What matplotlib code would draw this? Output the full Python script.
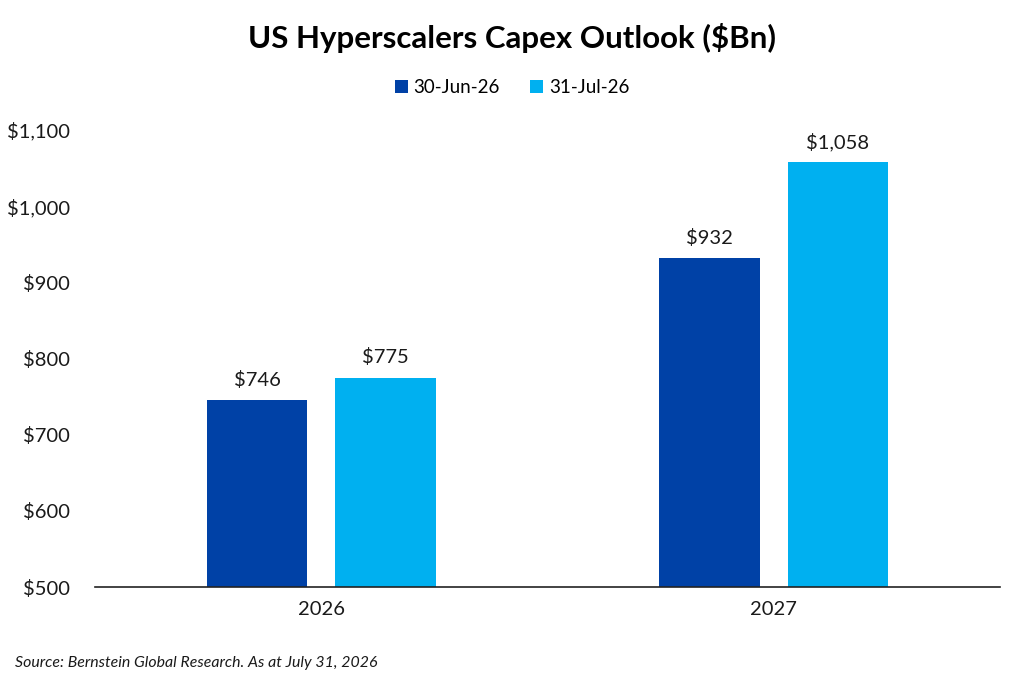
import matplotlib
matplotlib.use("Agg")
from matplotlib import pyplot as plt
import numpy as np

# chart data
years = ["2026", "2027"]
series_names = ["30-Jun-26", "31-Jul-26"]
capex_jun = [746, 932]
capex_jul = [775, 1058]
y_ticks = [500, 600, 700, 800, 900, 1000, 1100]

dark_blue = "#0041A6"
light_blue = "#00B0F0"

plt.rcParams['font.family'] = ['Lato', 'DejaVu Sans']

fig = plt.figure(figsize=(10.24, 6.86), dpi=100)
ax = fig.add_axes([0.0928, 0.1443, 0.8838, 0.6662])

x = np.arange(len(years))
width = 0.223
offset = 0.142

b1 = ax.bar(x - offset, capex_jun, width, color=dark_blue, label=series_names[0])
b2 = ax.bar(x + offset, capex_jul, width, color=light_blue, label=series_names[1])

for bars in (b1, b2):
    for rect in bars:
        h = rect.get_height()
        ax.annotate(f"${h:,.0f}", (rect.get_x() + rect.get_width() / 2, h),
                    xytext=(0, 8), textcoords="offset points",
                    ha="center", va="bottom", fontsize=14.5, color="#1a1a1a")

ax.set_ylim(500, 1100)
ax.set_xlim(-0.5, 1.5)
ax.set_yticks(y_ticks)
ax.set_yticklabels([f"${v:,}" for v in y_ticks])
ax.set_xticks(x)
ax.set_xticklabels(years)
ax.tick_params(axis="y", length=0, labelsize=14.5, pad=18, colors="#1a1a1a")
ax.tick_params(axis="x", length=0, labelsize=14.5, pad=10, colors="#1a1a1a")

for side in ("top", "right", "left"):
    ax.spines[side].set_visible(False)
ax.spines["bottom"].set_color("#222222")
ax.spines["bottom"].set_linewidth(1.2)

fig.text(0.5, 0.945, "US Hyperscalers Capex Outlook ($Bn)", ha="center", va="center",
         fontsize=22.5, fontweight="bold", color="black")

fig.legend(handles=[b1, b2], loc="center", bbox_to_anchor=(0.5, 0.872), ncol=2,
           frameon=False, fontsize=13.5, handlelength=0.7, handleheight=0.7,
           handletextpad=0.3, columnspacing=1.6)

fig.text(0.015, 0.033, "Source: Bernstein Global Research. As at July 31, 2026",
         fontsize=11.4, style="italic", color="#1a1a1a", va="center")

fig.savefig("out.png", dpi=100)
plt.close(fig)
